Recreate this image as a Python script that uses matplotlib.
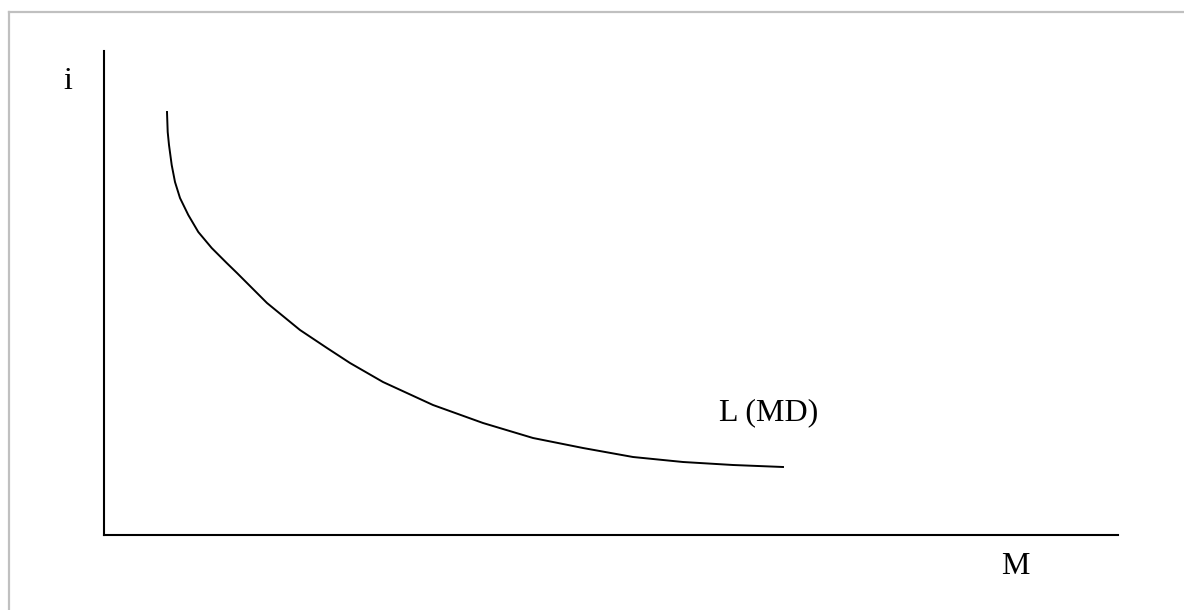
import numpy as np
import matplotlib.pyplot as plt
from matplotlib.lines import Line2D

# Curva di domanda di moneta L(MD): i in funzione di M
m_values = [0.63, 0.637, 0.65, 0.677, 0.71, 0.76, 0.843, 0.943, 1.077, 1.227,
            1.33, 1.63, 1.96, 2.23, 2.46, 2.79, 3.29, 3.79, 4.29, 4.79,
            5.29, 5.79, 6.29, 6.79]
i_values = [4.23, 4.03, 3.90, 3.70, 3.53, 3.37, 3.20, 3.03, 2.87, 2.72,
            2.62, 2.32, 2.05, 1.87, 1.72, 1.53, 1.30, 1.12, 0.97, 0.87,
            0.78, 0.73, 0.70, 0.68]

label_y = 'i'
label_x = 'M'
label_curve = 'L (MD)'

W, H = 1184, 610
fig = plt.figure(figsize=(W / 100, H / 100), dpi=100)
plt.rcParams['font.family'] = ['Liberation Serif', 'DejaVu Serif']

# cornice grigia attorno alla figura
fig.add_artist(Line2D([9 / W, 9 / W], [0, 1 - 12 / H], transform=fig.transFigure,
                      color='#c0c0c0', lw=1.6))
fig.add_artist(Line2D([9 / W, 1], [1 - 12 / H, 1 - 12 / H], transform=fig.transFigure,
                      color='#c0c0c0', lw=1.6))

ax = fig.add_axes([104 / W, 75 / H, 1014 / W, 484 / H])
ax.plot(m_values, i_values, color='black', lw=1.4, solid_joinstyle='round')
ax.set_xlim(0, 10.14)
ax.set_ylim(0, 4.84)

for s in ['top', 'right']:
    ax.spines[s].set_visible(False)
for s in ['left', 'bottom']:
    ax.spines[s].set_linewidth(1.5)
    ax.spines[s].set_color('black')
ax.set_xticks([])
ax.set_yticks([])

ax.text(-0.41, 4.46, label_y, fontsize=23, va='baseline', clip_on=False)
ax.text(6.15, 1.15, label_curve, fontsize=23, va='baseline')
ax.text(8.97, -0.39, label_x, fontsize=23, va='baseline', clip_on=False)

plt.savefig('out.png', dpi=100)
